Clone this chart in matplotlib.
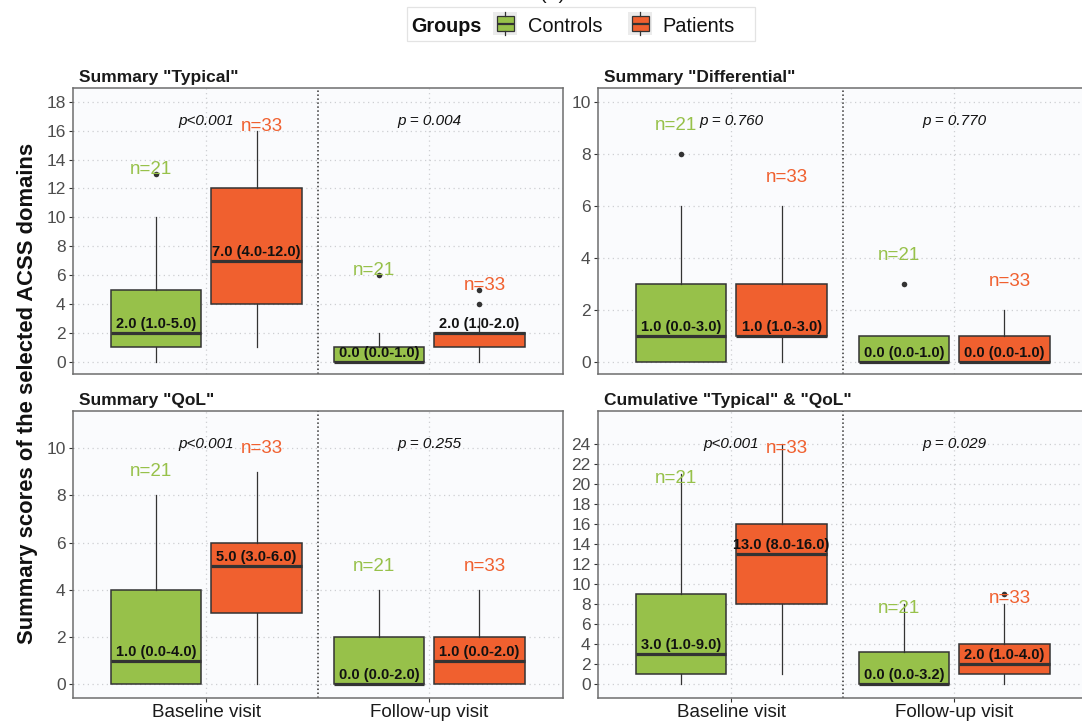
import matplotlib
matplotlib.use("Agg")
import matplotlib.pyplot as plt
import matplotlib.transforms as mtransforms
from matplotlib.patches import Rectangle
from matplotlib.lines import Line2D

plt.rcParams["font.family"] = ["Liberation Sans", "DejaVu Sans"]

# ---------------------------------------------------------------- data
panel_titles = ['Summary "Typical"', 'Summary "Differential"',
                'Summary "QoL"', 'Cumulative "Typical" & "QoL"']
visits = ["Baseline visit", "Follow-up visit"]
groups = ["Controls", "Patients"]
group_n = [21, 33]
group_colors = ["#97C14A", "#F0602F"]

# each row: Baseline/Controls, Baseline/Patients, Follow-up/Controls, Follow-up/Patients
whisker_low = [[0, 1, 0, 0], [0, 0, 0, 0], [0, 0, 0, 0], [0, 1, 0, 0]]
q1 = [[1, 4, 0, 1], [0, 1, 0, 0], [0, 3, 0, 0], [1, 8, 0, 1]]
medians = [[2, 7, 0, 2], [1, 1, 0, 0], [1, 5, 0, 1], [3, 13, 0, 2]]
q3 = [[5, 12, 1, 2], [3, 3, 1, 1], [4, 6, 2, 2], [9, 16, 3.25, 4]]
whisker_high = [[10, 16, 2, 3], [6, 6, 1, 2], [8, 9, 4, 4], [21, 24, 8, 8]]
outliers = [[[13], [], [6], [4, 5]],
            [[8], [], [3], []],
            [[], [], [], []],
            [[], [], [], [9]]]

p_labels = [["p<0.001", "p = 0.004"],
            ["p = 0.760", "p = 0.770"],
            ["p<0.001", "p = 0.255"],
            ["p<0.001", "p = 0.029"]]

y_tick_max = [18, 10, 10, 24]

# ---------------------------------------------------------------- layout
W, H = 1082, 722
fig = plt.figure(figsize=(W / 100, H / 100), dpi=100)
fig.patch.set_facecolor("white")


def px_rect(x0, y0, x1, y1):
    return [x0 / W, 1 - y1 / H, (x1 - x0) / W, (y1 - y0) / H]


cols = [(72.7, 563.0), (597.7, 1088.0)]
rows = [(88.0, 374.3), (411.0, 697.7)]
ylims = [(-0.87, 18.95), (-0.485, 10.53), (-0.57, 11.58), (-1.34, 27.33)]
n_offsets = [0.0, 0.92, 0.82, -0.84]

dodge = 0.225
box_w = 0.405
label_dodge = 0.25
edge = "#333333"

for k in range(4):
    r, c = divmod(k, 2)
    ax = fig.add_axes(px_rect(cols[c][0], rows[r][0], cols[c][1], rows[r][1]))
    ax.set_facecolor("#FAFBFD")
    ax.set_xlim(0.4, 2.6)
    ax.set_ylim(*ylims[k])
    ax.set_axisbelow(True)

    ax.set_yticks(range(0, y_tick_max[k] + 1, 2))
    ax.set_xticks([1, 2])
    ax.grid(True, color="#CDCFD2", linestyle=(0, (1, 2.8)), linewidth=0.9)
    ax.axvline(1.5, color="#333333", linestyle=(0, (1, 1.6)), linewidth=1.1, zorder=1)

    for s in ax.spines.values():
        s.set_color("#6E6E6E")
        s.set_linewidth(1.1)

    ax.tick_params(axis="y", labelsize=12.5, labelcolor="#4D4D4D", color="#333333",
                   length=2.75, width=0.8, pad=2.3)
    if r == 1:
        ax.set_xticklabels(visits)
        ax.tick_params(axis="x", labelsize=13.5, labelcolor="#1A1A1A", color="#333333",
                       length=2.75, width=0.8, pad=1.6)
    else:
        ax.tick_params(axis="x", bottom=False, labelbottom=False)

    for v in range(2):
        for g in range(2):
            i = 2 * v + g
            pos = (v + 1) + (dodge if g else -dodge)
            stats = dict(med=medians[k][i], q1=q1[k][i], q3=q3[k][i],
                         whislo=whisker_low[k][i], whishi=whisker_high[k][i],
                         fliers=outliers[k][i])
            ax.bxp([stats], positions=[pos], widths=box_w, patch_artist=True,
                   showcaps=False, manage_ticks=False,
                   boxprops=dict(facecolor=group_colors[g], edgecolor=edge, linewidth=1.1),
                   medianprops=dict(color=edge, linewidth=2.3, solid_capstyle="butt"),
                   whiskerprops=dict(color=edge, linewidth=0.9),
                   flierprops=dict(marker="o", markersize=4, markerfacecolor=edge,
                                   markeredgecolor="none"))

            ax.annotate(f"{medians[k][i]:.1f} ({q1[k][i]:.1f}-{q3[k][i]:.1f})",
                        xy=(pos, medians[k][i]), xytext=(0, 3.6), textcoords="offset points",
                        ha="center", va="baseline", fontsize=10.5, fontweight="bold",
                        color="#111111", zorder=6)

            top = max([whisker_high[k][i]] + list(outliers[k][i]))
            lpos = (v + 1) + (label_dodge if g else -label_dodge)
            ax.text(lpos, top + n_offsets[k], f"n={group_n[g]}", ha="center",
                    va="baseline", fontsize=13.5, color=group_colors[g], zorder=7)

        trans = mtransforms.blended_transform_factory(ax.transData, ax.transAxes)
        ax.text(v + 1, 1 - 37 / 286.5, p_labels[k][v], transform=trans, ha="center",
                va="baseline", fontsize=11, fontstyle="italic", color="#111111", zorder=7)

    ax.annotate(panel_titles[k], xy=(0, 1), xycoords="axes fraction", xytext=(4.8, 4.6),
                textcoords="offset points", ha="left", va="baseline", fontsize=12.5,
                fontweight="bold", color="#1A1A1A")

# ---------------------------------------------------------------- shared y label
fig.text(28 / W, 1 - 393 / H, "Summary scores of the selected ACSS domains",
         rotation=90, ha="center", va="center", fontsize=15.8, fontweight="bold",
         color="#111111")

# ---------------------------------------------------------------- top label
fig.text(553 / W, 1 + 1 / H, "(A)", ha="center", va="baseline", fontsize=14,
         color="#111111")

# ---------------------------------------------------------------- legend
def fx(x):
    return x / W


def fy(y):
    return 1 - y / H


fig.patches.append(Rectangle((fx(406.7), fy(40.5)), fx(755) - fx(406.7), fy(7) - fy(40.5),
                             transform=fig.transFigure, facecolor="white",
                             edgecolor="#E3E3E3", linewidth=0.9))
fig.text(fx(411.7), fy(24), "Groups", ha="left", va="center_baseline", fontsize=14.2,
         fontweight="bold", color="#111111")

key_x = [493.3, 628.3]
text_x = [528.3, 662.7]
for g in range(2):
    x0 = key_x[g]
    fig.patches.append(Rectangle((fx(x0), fy(35)), fx(x0 + 24) - fx(x0), fy(11.7) - fy(35),
                                 transform=fig.transFigure, facecolor="#EBEBEB",
                                 edgecolor="none"))
    fig.patches.append(Rectangle((fx(x0 + 3.5), fy(31)), fx(x0 + 20.5) - fx(x0 + 3.5),
                                 fy(16) - fy(31), transform=fig.transFigure,
                                 facecolor=group_colors[g], edgecolor=edge, linewidth=0.9))
    cx = x0 + 12
    fig.lines.append(Line2D([fx(cx), fx(cx)], [fy(16), fy(12)], transform=fig.transFigure,
                            color=edge, linewidth=0.9))
    fig.lines.append(Line2D([fx(cx), fx(cx)], [fy(31), fy(35)], transform=fig.transFigure,
                            color=edge, linewidth=0.9))
    fig.lines.append(Line2D([fx(x0 + 3.5), fx(x0 + 20.5)], [fy(23.5), fy(23.5)],
                            transform=fig.transFigure, color=edge, linewidth=1.6,
                            solid_capstyle="butt"))
    fig.text(fx(text_x[g]), fy(24), groups[g], ha="left", va="center_baseline",
             fontsize=14.4, color="#111111")

fig.savefig("out.png", dpi=100)
